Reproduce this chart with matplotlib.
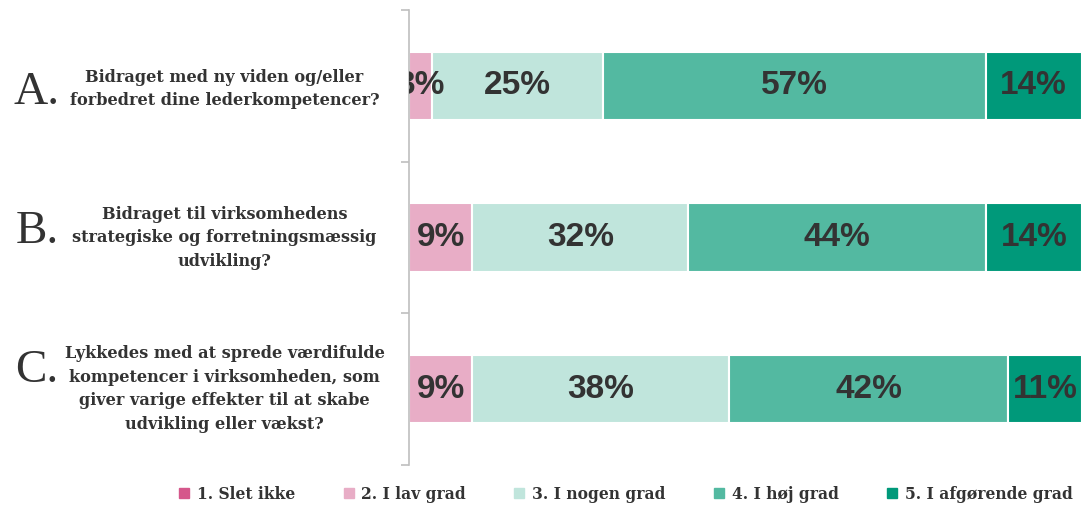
import numpy as np
import matplotlib.pyplot as plt
from matplotlib.lines import Line2D
from matplotlib.transforms import blended_transform_factory

# Data
letters = ["A.", "B.", "C."]
questions = [
    "Bidraget med ny viden og/eller\nforbedret dine lederkompetencer?",
    "Bidraget til virksomhedens\nstrategiske og forretningsmæssig\nudvikling?",
    "Lykkedes med at sprede værdifulde\nkompetencer i virksomheden, som\ngiver varige effekter til at skabe\nudvikling eller vækst?",
]
series_names = ["1. Slet ikke", "2. I lav grad", "3. I nogen grad", "4. I høj grad", "5. I afgørende grad"]
slet_ikke = [0.0, 0.0, 0.0]
lav_grad = [3.4, 9.4, 9.4]
nogen_grad = [25.4, 32.1, 38.2]
hoej_grad = [56.9, 44.3, 41.5]
afgoerende = [14.3, 14.2, 10.9]
colors = ["#d5578b", "#e8adc6", "#c0e5dc", "#53b9a1", "#00997a"]

series = [slet_ikke, lav_grad, nogen_grad, hoej_grad, afgoerende]

fig = plt.figure(figsize=(10.85, 5.07), dpi=100)
ax = fig.add_axes([0.377, 0.083, 0.62, 0.897])

y = np.arange(len(letters))
left = np.zeros(len(letters))
for vals, col in zip(series, colors):
    vals = np.array(vals)
    ax.barh(y, vals, left=left, height=0.45, color=col, edgecolor="white", linewidth=1.5)
    for yi, v, l in zip(y, vals, left):
        if v > 0:
            ax.text(l + v / 2, yi, f"{v:.0f}%", ha="center", va="center",
                    fontsize=24, fontweight="bold", color="#333333",
                    family="Liberation Sans", clip_on=True)
    left += vals

ax.set_xlim(0, 100)
ax.set_ylim(2.5, -0.5)
for s in ["top", "right", "bottom"]:
    ax.spines[s].set_visible(False)
ax.spines["left"].set_color("#bfbfbf")
ax.spines["left"].set_linewidth(1.2)
ax.set_xticks([])
ax.set_yticks([-0.5, 0.5, 1.5, 2.5])
ax.set_yticklabels([])
ax.tick_params(axis="y", length=6, color="#bfbfbf", width=1.2)

# Category labels
trans = blended_transform_factory(fig.transFigure, ax.transData)
letter_offsets = [0.045, -0.037, -0.12]
text_offsets = [0.02, 0.0, 0.0]
for yi, let, q, off, toff in zip(y, letters, questions, letter_offsets, text_offsets):
    ax.text(0.034, yi + off, let, transform=trans, ha="center", va="center",
            fontsize=34, family="Liberation Serif", color="#333333")
    ax.text(0.207, yi + toff, q, transform=trans, ha="center", va="center",
            fontsize=11.6, fontweight="bold", family="DejaVu Serif",
            color="#333333", linespacing=1.5)

# Legend
handles = [Line2D([], [], marker="s", linestyle="none", markersize=7,
                  markerfacecolor=c, markeredgecolor=c) for c in colors]
fig.legend(handles, series_names, loc="center", bbox_to_anchor=(0.577, 0.025),
           ncol=5, frameon=False, handlelength=0.6, handletextpad=0.5,
           columnspacing=3.15, prop={"family": "DejaVu Serif", "weight": "bold", "size": 11.2},
           labelcolor="#333333")

fig.savefig("out.png", dpi=100)
